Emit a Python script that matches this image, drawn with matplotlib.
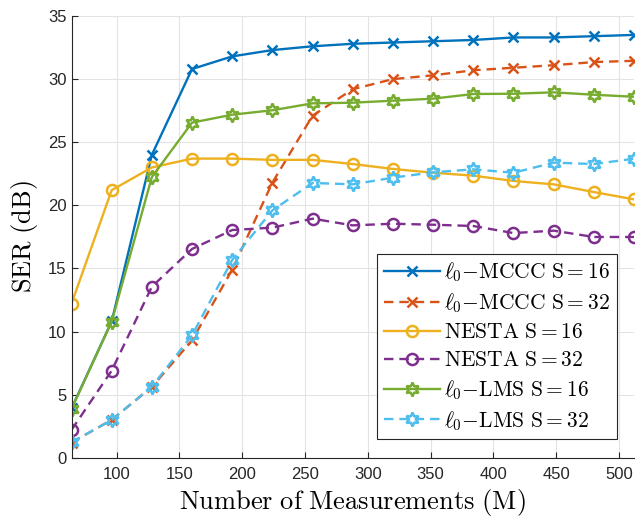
import matplotlib
matplotlib.use("Agg")
import matplotlib.pyplot as plt

M = [64, 96, 128, 160, 192, 224, 256, 288, 320, 352, 384, 416, 448, 480, 512]
mccc16 = [3.9, 10.8, 24.0, 30.8, 31.8, 32.3, 32.6, 32.8, 32.9, 33.0, 33.1, 33.3, 33.3, 33.4, 33.5]
mccc32 = [1.2, 3.0, 5.6, 9.3, 14.9, 21.8, 27.1, 29.2, 30.0, 30.3, 30.7, 30.9, 31.1, 31.35, 31.45]
nesta16 = [12.2, 21.2, 23.0, 23.7, 23.7, 23.6, 23.6, 23.27, 22.88, 22.58, 22.35, 21.93, 21.66, 21.05, 20.47]
nesta32 = [2.2, 6.9, 13.55, 16.54, 18.04, 18.23, 18.94, 18.41, 18.54, 18.46, 18.36, 17.8, 17.99, 17.49, 17.49]
lms16 = [3.86, 10.78, 22.24, 26.55, 27.18, 27.53, 28.08, 28.13, 28.29, 28.45, 28.82, 28.84, 28.95, 28.76, 28.6]
lms32 = [1.22, 2.99, 5.63, 9.7, 15.67, 19.6, 21.77, 21.66, 22.19, 22.61, 22.85, 22.58, 23.38, 23.27, 23.69]

labels = [r'$\ell_0\mathrm{-MCCC\ S{=}16}$', r'$\ell_0\mathrm{-MCCC\ S{=}32}$',
          r'$\mathrm{NESTA\ S{=}16}$', r'$\mathrm{NESTA\ S{=}32}$',
          r'$\ell_0\mathrm{-LMS\ S{=}16}$', r'$\ell_0\mathrm{-LMS\ S{=}32}$']
xticks = [100, 150, 200, 250, 300, 350, 400, 450, 500]
yticks = [0, 5, 10, 15, 20, 25, 30, 35]

plt.rcParams['mathtext.fontset'] = 'cm'
plt.rcParams['font.family'] = ['Liberation Sans', 'DejaVu Sans']

fig = plt.figure(figsize=(6.41, 5.19), dpi=100)
ax = fig.add_axes([71.5/641, 1-457.7/519, 562.5/641, 441.7/519])

colors = ['#0072BD', '#D95319', '#EDB120', '#7E2F8E', '#77AC30', '#4DBEEE']
series = [mccc16, mccc32, nesta16, nesta32, lms16, lms32]
markers = ['x', 'x', 'o', 'o', (6, 1, 0), (6, 1, 0)]
msizes = [6.5, 6.5, 8, 8, 10, 10]
styles = ['-', '--', '-', '--', '-', '--']
for y, c, m, ms, ls, lab in zip(series, colors, markers, msizes, styles, labels):
    kw = dict(color=c, marker=m, markersize=ms, linewidth=1.7, label=lab,
              markeredgewidth=1.8, markerfacecolor='none', markeredgecolor=c)
    if ls == '--':
        kw['dashes'] = (4, 2.5)
    else:
        kw['linestyle'] = '-'
    ax.plot(M, y, **kw)

ax.set_xlim(64, 512)
ax.set_ylim(0, 35)
ax.set_xticks(xticks)
ax.set_yticks(yticks)
ax.grid(True, color='#e3e3e3', linewidth=0.8)
ax.set_axisbelow(True)
ax.tick_params(direction='in', length=4, width=0.8, labelsize=12, colors='#262626')
ax.tick_params(axis='x', pad=7)
for s in ['top', 'right']:
    ax.spines[s].set_visible(False)
for s in ['left', 'bottom']:
    ax.spines[s].set_color('#262626')
    ax.spines[s].set_linewidth(0.8)

ax.set_xlabel(r'$\mathrm{Number\ of\ Measurements\ (M)}$', fontsize=19, labelpad=3)
ax.set_ylabel(r'$\mathrm{SER\ (dB)}$', fontsize=19, labelpad=6)

leg = ax.legend(loc='lower right', bbox_to_anchor=(0.969, 0.042), fontsize=15.5,
                frameon=True, fancybox=False, framealpha=1, edgecolor='#262626',
                borderpad=0.3, labelspacing=0.33, handlelength=2.6, handletextpad=0.2,
                borderaxespad=0)
leg.get_frame().set_linewidth(0.8)

fig.savefig('out.png', dpi=100)
